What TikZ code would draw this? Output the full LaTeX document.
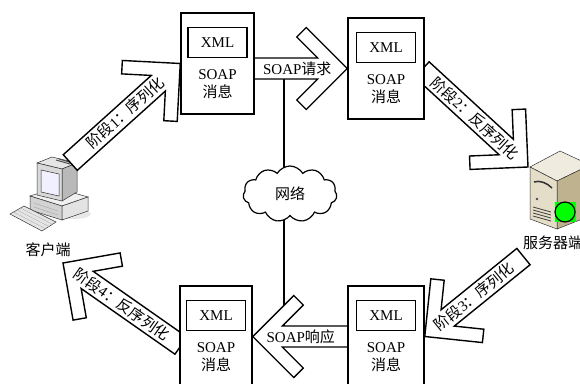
\documentclass[tikz,border=0pt]{standalone}
\usepackage{fontspec}
\setmainfont{Liberation Serif}
\newfontfamily\cjk{Noto Sans CJK SC}
\usepackage{tikz}
\usetikzlibrary{positioning, shapes.symbols, calc}

\pgfdeclarelayer{background}
\pgfdeclarelayer{foreground}
\pgfsetlayers{background,main,foreground}

\definecolor{lamp}{RGB}{0,255,0}
\definecolor{caseface}{HTML}{E4DDC8}
\definecolor{caseside}{HTML}{BFB38F}
\definecolor{casetop}{HTML}{EFEBDF}

\tikzset{
    msgbox/.style={
           rectangle,
           draw=black, line width=1.5pt,
           fill=white,
           minimum width=74pt,
           minimum height=101pt,
           },
    xmlbox/.style={
           rectangle,
           draw=black, line width=1.5pt,
           minimum width=59pt,
           minimum height=30pt,
           inner sep=0pt,
           },
    msgtext/.style={align=center, inner sep=0pt},
    arrowbody/.style={draw=black, line width=1.4pt, fill=white, line join=miter},
    arrowlabel/.style={inner sep=0pt, minimum height=21pt},
    netline/.style={draw=black, line width=1.2pt},
    icon/.style={draw=black!80, line width=0.5pt},
}

% chevron head and half width of the body
\newcommand{\headc}{41}
\newcommand{\headd}{9.5}
\newcommand{\halfw}{10.5}

% \msgarrow{tip}{direction}{body length}{label name}{label angle}{label}
\newcommand{\msgarrow}[6]{%
  \begin{scope}[shift={#1}, rotate=#2]
    \path[arrowbody] (-#3,\halfw) -- (-2*\headd-\halfw,\halfw)
      -- (-\headc-\headd,\headc-\headd) -- (-\headc,\headc) -- (0,0)
      -- (-\headc,-\headc) -- (-\headc-\headd,-\headc+\headd)
      -- (-2*\headd-\halfw,-\halfw) -- (-#3,-\halfw) -- cycle;
    \node[arrowlabel, rotate=#5] (#4) at (-#3/2,0) {#6};
  \end{scope}}

\begin{document}
\begin{tikzpicture}[x=1pt, y=-1pt, font=\fontsize{15pt}{18pt}\selectfont]
  \useasboundingbox (0,0) rectangle (580,383);

  % the four SOAP messages sit above the arrows
  \begin{pgfonlayer}{foreground}
  \node[msgbox, minimum width=73pt] (Msg1) at (217.5,63.5) {};
  \node[msgbox, minimum width=76pt] (Msg2) at (386,68.5)   {};
  \node[msgbox, minimum width=76pt] (Msg3) at (386,336.5)  {};
  \node[msgbox, minimum width=72pt] (Msg4) at (216,336.5)  {};
  \foreach \m in {Msg1,Msg2,Msg3,Msg4}{
    \node[xmlbox, below=14.5pt of \m.north] (\m Xml) {XML};
    \node[msgtext, below=11pt of \m Xml]    (\m Txt) {SOAP\\{\cjk 消息}};
  }
  \end{pgfonlayer}

  % client computer
  \fill[gray!18] (74,214) ellipse [x radius=17pt, y radius=5pt];
  \draw[icon, fill=gray!12] (30,196) -- (56,188) -- (88,197) -- (62,206) -- cycle;
  \draw[icon, fill=gray!35] (30,196) -- (62,206) -- (62,220) -- (30,210) -- cycle;
  \draw[icon, fill=gray!22] (62,206) -- (88,197) -- (88,211) -- (62,220) -- cycle;
  \draw[gray!70] (34,203) -- (58,211) (34,207) -- (58,215);
  \draw[icon, fill=gray!20] (37,163) -- (52,157) -- (77,163) -- (62,169) -- cycle;
  \draw[icon, fill=gray!55] (62,169) -- (77,163) -- (77,192) -- (62,201) -- cycle;
  \draw[icon, fill=gray!30] (37,163) -- (62,169) -- (62,201) -- (37,195) -- cycle;
  \draw[icon, fill=blue!6] (41,170) -- (59,174) -- (59,196) -- (41,192) -- cycle;
  \draw[black!70, line width=1pt] (56,160) -- (70,164) (59,159) -- (73,163);
  \draw[icon, fill=gray!20] (10,214) -- (24,206) -- (56,222) -- (42,231) -- cycle;
  \foreach \t in {0.25,0.5,0.75}
    \draw[gray!60] ($(10,214)!\t!(24,206)$) -- ($(42,231)!\t!(56,222)$);
  \node (Client) at (48,250) {\cjk 客户端};

  % server
  \draw[icon, fill=casetop]  (530,167) -- (560,151) -- (590,165) -- (557,181) -- cycle;
  \draw[icon, fill=caseside] (557,181) -- (590,165) -- (590,216) -- (557,229) -- cycle;
  \draw[icon, fill=caseface] (530,167) -- (557,181) -- (557,229) -- (530,219) -- cycle;
  \draw[black!80, line width=1.5pt] (534,182) .. controls (540,180) and (547,183) .. (552,188);
  \fill[black!70] (537,199) circle [radius=1.3pt];
  \foreach \k in {0,...,3}
    \draw[black!75, line width=0.8pt] (533,207+3*\k) -- (551,212+3*\k);
  \fill[lamp] (555,202) rectangle (576,222);
  \draw[fill=lamp, line width=1.2pt] (565,212) circle [radius=10pt];
  \node (Server) at (553,243) {\cjk 服务器端};

  % network
  \node[cloud, draw, fill=white, line width=1.2pt, cloud puffs=11, cloud puff arc=120,
        cloud ignores aspect, minimum width=94pt, minimum height=56pt, inner sep=0pt]
        (Net) at (290,194) {\cjk 网络};

  % stages 1-4 and the request / response
  \msgarrow{(Msg1.west)}{42}{148}{Stage1}{42}{{\cjk 阶段}1{\cjk ：序列化}}
  \msgarrow{(Msg2.west)}{0}{100}{Request}{0}{SOAP{\cjk 请求}}
  \msgarrow{(528,167)}{-42.6}{144}{Stage2}{-42.6}{{\cjk 阶段}2{\cjk ：反序列化}}
  \msgarrow{(Msg3.east)}{219}{127}{Stage3}{39}{{\cjk 阶段}3{\cjk ：序列化}}
  \msgarrow{(Msg4.east)}{180}{96}{Response}{0}{SOAP{\cjk 响应}}
  \msgarrow{(63,263)}{145}{144}{Stage4}{-35}{{\cjk 阶段}4{\cjk ：反序列化}}

  % wires from the cloud, kept behind
  \coordinate (Hub) at ([xshift=-6pt]Net.center);
  \begin{pgfonlayer}{background}
  \draw[netline] (Hub) -- (Hub |- Request.south);
  \draw[netline] (Hub) -- (Hub |- Response.north);
  \end{pgfonlayer}
\end{tikzpicture}
\end{document}
